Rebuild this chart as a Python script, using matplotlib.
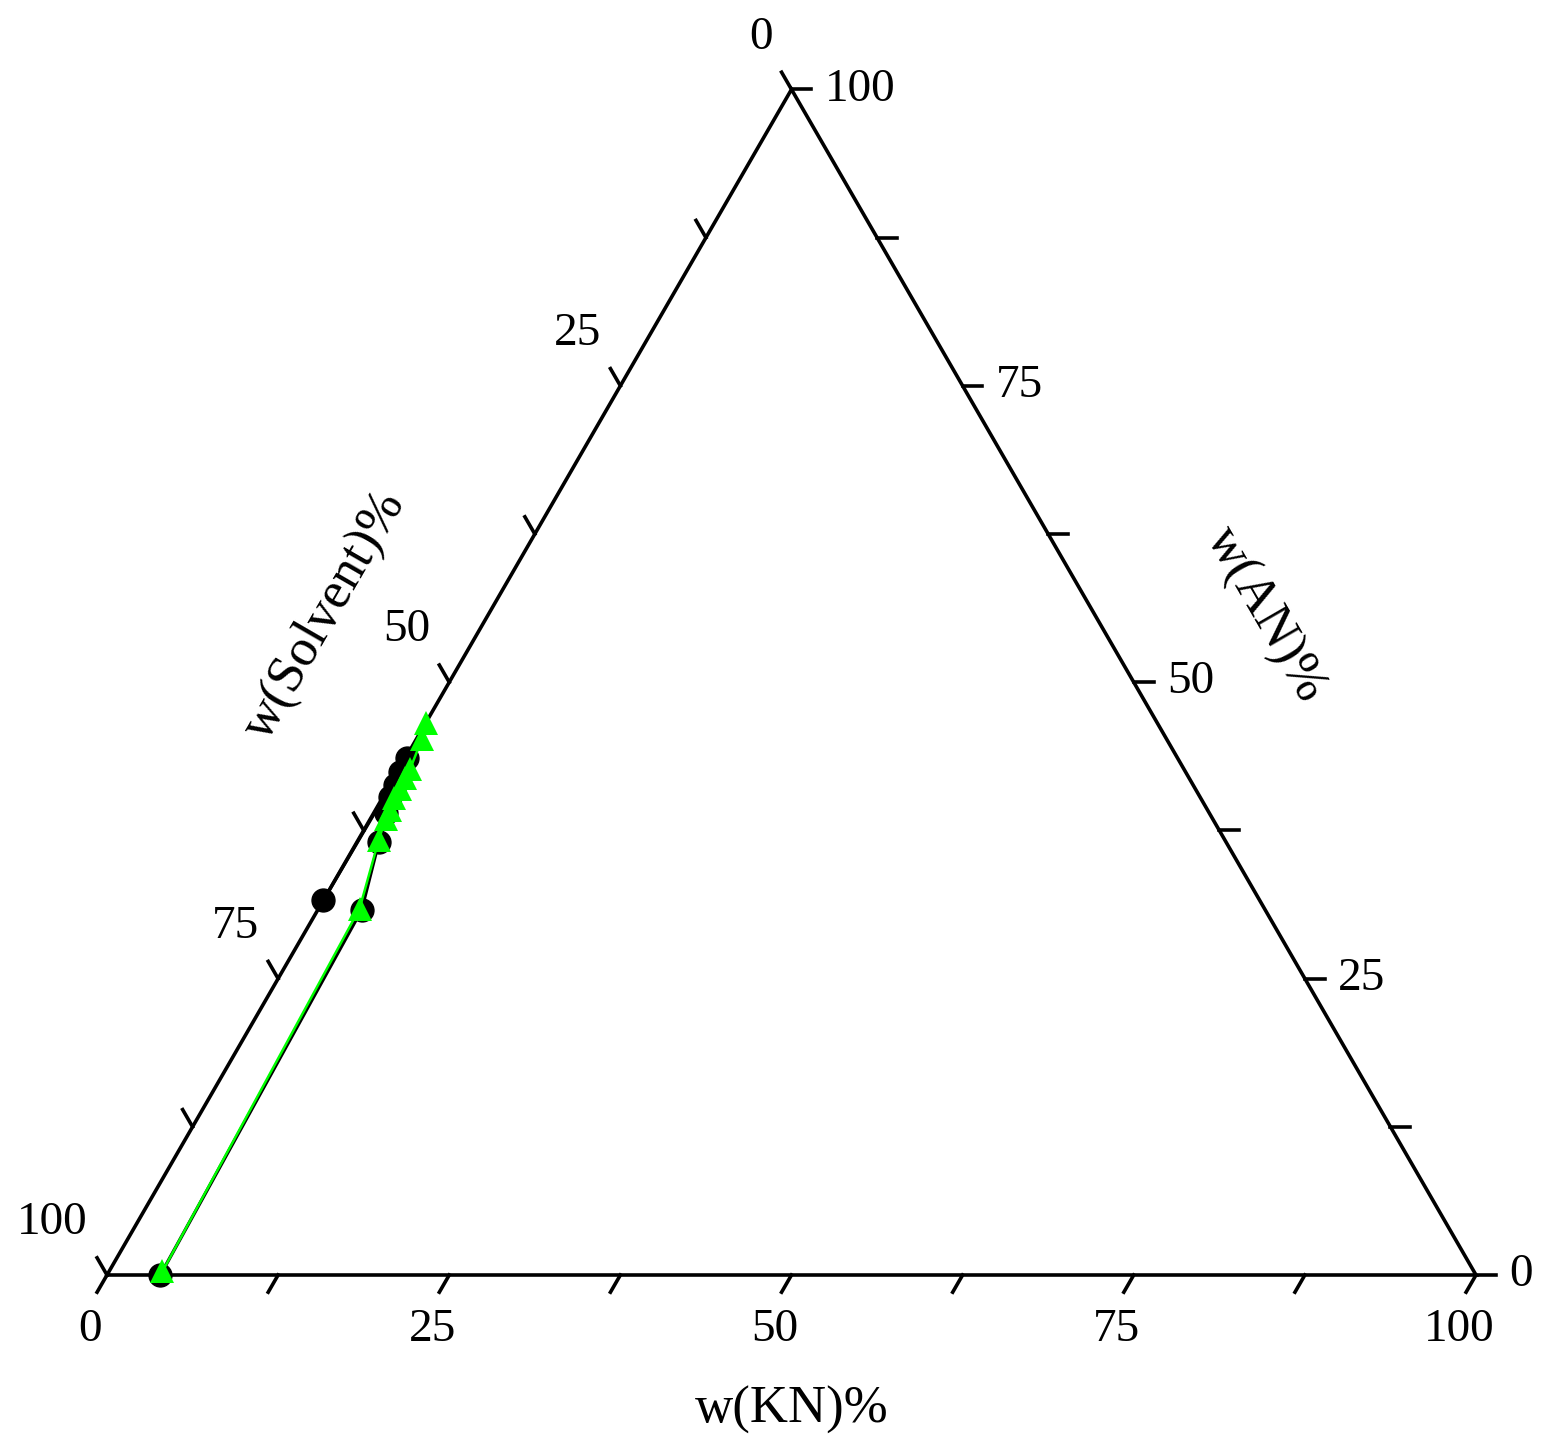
import matplotlib
matplotlib.use('Agg')
import matplotlib.pyplot as plt
import numpy as np

plt.rcParams['font.family'] = ['Liberation Serif', 'DejaVu Serif']

# Ternary data: w(KN)%, w(AN)%  (solvent = 100 - KN - AN)
black_kn = [3.9, 3.2, 1.6, 0.9, 0.5, 0.4, 0.2, 0.1, 0.0]
black_an = [0.0, 30.8, 36.5, 39.0, 40.3, 41.3, 42.4, 43.6, 31.6]

green_kn = [3.9, 3.0, 1.5, 1.1, 1.1, 0.9, 0.9, 0.8, 0.8, 0.4, 0.0]
green_an = [0.3, 30.9, 36.7, 38.5, 39.2, 40.2, 41.0, 41.9, 42.7, 45.2, 46.6]

tick_vals = np.arange(0, 100.1, 12.5)
label_vals = [0, 25, 50, 75, 100]

H = np.sqrt(3) / 2


def to_xy(kn, an):
    kn = np.asarray(kn, dtype=float)
    an = np.asarray(an, dtype=float)
    return kn + an / 2, an * H


# figure: 1546 x 1455 px, triangle 1369 px wide, bottom-left corner at px (107, 1275)
W, Hpx = 1546, 1455
ppu = 13.69  # pixels per unit
fig = plt.figure(figsize=(W / 100, Hpx / 100), dpi=100)
ax = fig.add_axes([0, 0, 1, 1])
ax.set_xlim(-107 / ppu, (W - 107) / ppu)
ax.set_ylim(-(Hpx - 1275) / ppu, 1275 / ppu)
ax.axis('off')

lw = 2.6
# triangle edges
ax.plot([0, 100, 50, 0], [0, 0, 100 * H, 0], color='black', lw=lw, zorder=2,
        solid_joinstyle='miter')

L = 1.45  # tick length (units)
px = 1 / ppu
for v in tick_vals:
    # bottom axis: KN
    x0, y0 = v, 0
    ax.plot([x0, x0 - 0.5 * L], [y0, y0 - H * L], color='black', lw=lw, zorder=2)
    # right axis: AN
    x0, y0 = 100 - v / 2, v * H
    ax.plot([x0, x0 + L], [y0, y0], color='black', lw=lw, zorder=2)
    # left axis: Solvent (0 at top)
    x0, y0 = 50 - v / 2, (100 - v) * H
    ax.plot([x0, x0 - 0.5 * L], [y0, y0 + H * L], color='black', lw=lw, zorder=2)

fs = 34
for v in label_vals:
    ax.text(v - 17 * px, -55 * px, f'{v}', fontsize=fs, ha='center', va='center')
    ax.text(100 - v / 2 + 33 * px, v * H, f'{v}', fontsize=fs, ha='left', va='center')
    ax.text(50 - v / 2 - 19 * px, (100 - v) * H + 52 * px, f'{v}', fontsize=fs,
            ha='right', va='center')

tfs = 38
ax.text(50, -135 * px, 'w(KN)%', fontsize=tfs, ha='center', va='center')
ax.text((325 - 107) * px, (1275 - 615) * px, 'w(Solvent)%', fontsize=tfs,
        ha='center', va='center', rotation=60, rotation_mode='anchor')
ax.text((1265 - 107) * px, (1275 - 615) * px, 'w(AN)%', fontsize=tfs,
        ha='center', va='center', rotation=-60, rotation_mode='anchor')

bx, by = to_xy(black_kn, black_an)
gx, gy = to_xy(green_kn, green_an)
ax.plot(bx, by, color='black', lw=2.4, marker='o', markersize=16.5, zorder=3,
        clip_on=False)
ax.plot(gx, gy, color='#00ff00', lw=1.8, marker='^', markersize=17,
        markeredgewidth=0, zorder=4, clip_on=False)

fig.savefig('out.png', dpi=100)
